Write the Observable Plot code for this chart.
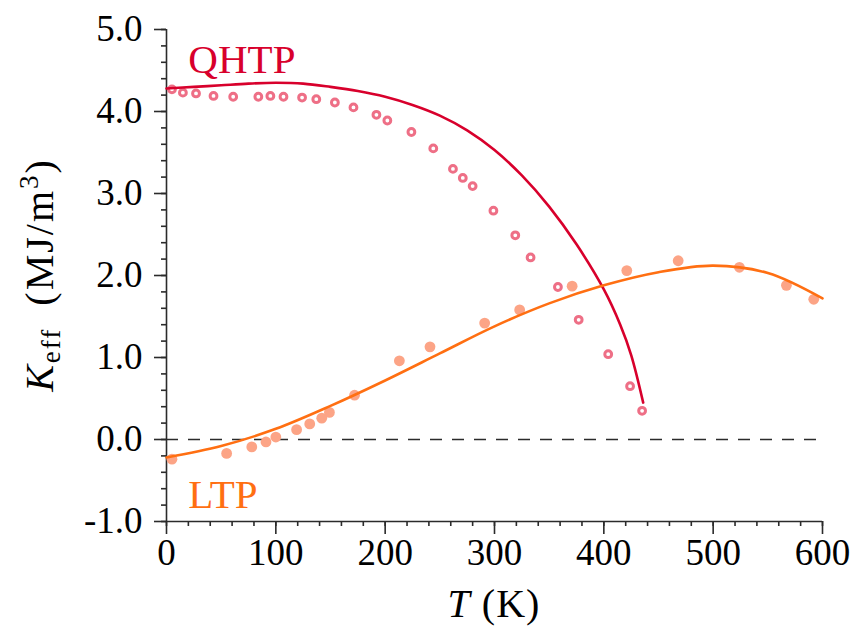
<!DOCTYPE html>
<html>
<head>
<meta charset="utf-8">
<script src="https://cdn.jsdelivr.net/npm/d3@7"></script>
<script src="https://cdn.jsdelivr.net/npm/@observablehq/plot@0.6"></script>
<style>
  html, body { margin: 0; padding: 0; background: #fff; }
  #chart { width: 860px; height: 638px; font-family: "Liberation Serif", "Times New Roman", Times, serif; }
  svg, svg g, svg text, svg tspan { font-family: "Liberation Serif", "Times New Roman", Times, serif !important; }
</style>
</head>
<body>
<div id="chart"></div>
<script>
// QHTP measured points (open circles)
const qhtpT = [5, 15, 27, 43, 61, 84, 95, 107, 124, 137, 154, 171, 192, 202, 224, 244, 262, 271, 280, 299, 319, 333, 358, 377, 404, 424, 435];
const qhtpK = [4.27, 4.23, 4.22, 4.19, 4.18, 4.18, 4.19, 4.18, 4.17, 4.15, 4.11, 4.05, 3.96, 3.89, 3.75, 3.55, 3.30, 3.19, 3.09, 2.79, 2.49, 2.22, 1.86, 1.46, 1.04, 0.65, 0.35];
// QHTP fitted curve
const qhtpFitT = [0, 25, 50, 75, 100, 125, 150, 175, 200, 225, 250, 275, 300, 325, 350, 375, 400, 415, 425, 436];
const qhtpFitK = [4.28, 4.30, 4.32, 4.34, 4.35, 4.34, 4.30, 4.25, 4.18, 4.08, 3.95, 3.77, 3.53, 3.22, 2.84, 2.38, 1.83, 1.40, 1.03, 0.45];
// LTP measured points (filled circles)
const ltpT = [5, 55, 78, 91, 100, 119, 131, 142, 149, 172, 213, 241, 291, 323, 371, 421, 468, 524, 567, 592];
const ltpK = [-0.24, -0.17, -0.09, -0.03, 0.03, 0.12, 0.19, 0.26, 0.33, 0.54, 0.96, 1.13, 1.42, 1.58, 1.87, 2.06, 2.18, 2.10, 1.88, 1.71];
// LTP fitted curve
const ltpFitT = [0, 50, 100, 150, 200, 250, 300, 350, 400, 450, 500, 550, 600];
const ltpFitK = [-0.22, -0.08, 0.13, 0.41, 0.72, 1.05, 1.38, 1.66, 1.88, 2.04, 2.12, 2.03, 1.72];
// Ticks
const xMajor = [0, 100, 200, 300, 400, 500, 600];
const yMajor = [-1, 0, 1, 2, 3, 4, 5];
const xMinor = d3.range(0, 601, 20);
const yMinor = d3.range(-10, 51, 2).map(d => d / 10);
// Labels
const seriesLabels = [{name: "QHTP", T: 20, K: 4.47}, {name: "LTP", T: 20, K: -0.84}];

const zip = (a, b) => a.map((t, i) => ({T: t, K: b[i]}));
const qhtp = zip(qhtpT, qhtpK), qhtpFit = zip(qhtpFitT, qhtpFitK);
const ltp = zip(ltpT, ltpK), ltpFit = zip(ltpFitT, ltpFitK);

const FONT = "'Liberation Serif', 'Times New Roman', Times, serif";
const RED = "#d8002c", RED_DOT = "#ee6f86", ORANGE = "#ff6f12", ORANGE_DOT = "#fca486", AX = "#2b2b2b";

const fig = Plot.plot({
  width: 860, height: 638,
  marginLeft: 166, marginRight: 38, marginTop: 29, marginBottom: 117,
  style: {background: "#fff", color: "#000", fontFamily: FONT},
  x: {domain: [0, 600], label: null},
  y: {domain: [-1, 5], label: null},
  marks: [
    Plot.axisY(yMinor, {tickSize: 5, text: null, stroke: AX, strokeWidth: 1.6, label: null}),
    Plot.axisY(yMajor, {tickSize: 12, tickPadding: 12, tickFormat: d => d.toFixed(1), fontSize: 37, fontFamily: FONT, fontVariant: "normal", fill: "#000", stroke: AX, strokeWidth: 1.6, label: null}),
    Plot.axisX(xMinor, {tickSize: 5, text: null, stroke: AX, strokeWidth: 1.6, label: null}),
    Plot.axisX(xMajor, {tickSize: 13, tickPadding: 4, fontSize: 37, fontFamily: FONT, fontVariant: "normal", fill: "#000", stroke: AX, strokeWidth: 1.6, label: null}),
    Plot.ruleX([0], {stroke: AX, strokeWidth: 1.6}),
    Plot.ruleY([-1], {stroke: AX, strokeWidth: 1.6}),
    Plot.ruleY([0], {stroke: AX, strokeWidth: 1.6, strokeDasharray: "12,10"}),
    Plot.dot(qhtp, {x: "T", y: "K", r: 3.4, stroke: RED_DOT, strokeWidth: 3, fill: "none"}),
    Plot.dot(ltp, {x: "T", y: "K", r: 5.4, fill: ORANGE_DOT, stroke: "none"}),
    Plot.line(qhtpFit, {x: "T", y: "K", stroke: RED, strokeWidth: 2.6, curve: "catmull-rom"}),
    Plot.line(ltpFit, {x: "T", y: "K", stroke: ORANGE, strokeWidth: 2.6, curve: "catmull-rom"}),
    Plot.text(seriesLabels.slice(0, 1), {x: "T", y: "K", text: "name", textAnchor: "start", lineAnchor: "bottom", fontSize: 41, fontFamily: FONT, fill: RED}),
    Plot.text(seriesLabels.slice(1), {x: "T", y: "K", text: "name", textAnchor: "start", lineAnchor: "bottom", fontSize: 41, fontFamily: FONT, fill: ORANGE})
  ]
});

document.getElementById("chart").appendChild(fig);

// Axis titles with LaTeX-like formatting, positioned from the plot's scales
const sx = fig.scale("x"), sy = fig.scale("y");
const xMid = (sx.range[0] + sx.range[1]) / 2;
const yMid = (sy.range[0] + sy.range[1]) / 2;
const yBottom = Math.max(sy.range[0], sy.range[1]);
const svg = d3.select(fig);

const xl = svg.append("text")
  .attr("x", xMid).attr("y", yBottom + 96)
  .attr("text-anchor", "middle").attr("font-size", 40).attr("fill", "#000")
  .style("letter-spacing", "1px");
xl.append("tspan").attr("font-style", "italic").text("T");
xl.append("tspan").text(" (K)");

const yl = svg.append("text")
  .attr("transform", `translate(53,${yMid}) rotate(-90)`)
  .attr("text-anchor", "middle").attr("font-size", 40).attr("fill", "#000")
  .style("letter-spacing", "2px");
yl.append("tspan").attr("font-style", "italic").text("K");
yl.append("tspan").attr("font-size", 27).attr("dy", 7).text("eff");
yl.append("tspan").attr("dy", -7).text("\u2002(MJ/m");
yl.append("tspan").attr("font-size", 27).attr("dy", -15).text("3");
yl.append("tspan").attr("dy", 15).text(")");

svg.attr("font-family", FONT);
svg.selectAll("text").attr("font-family", FONT).attr("font-variant", null);
</script>
</body>
</html>
